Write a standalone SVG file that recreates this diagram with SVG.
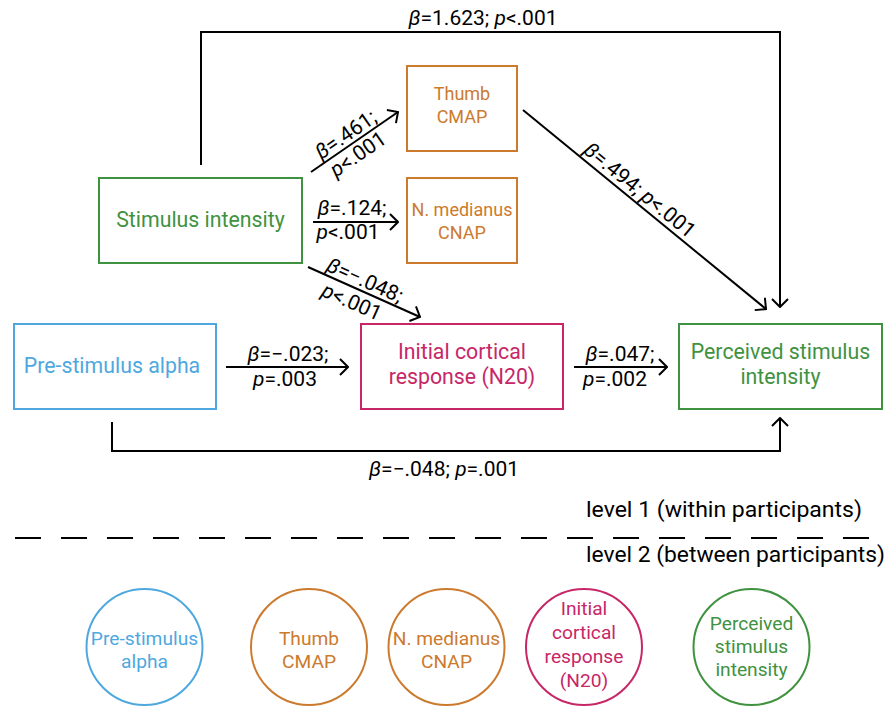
<svg xmlns="http://www.w3.org/2000/svg" width="889" height="706" viewBox="0 0 889 706">
<defs>
<marker id="arr" viewBox="0 0 10 18" refX="9" refY="9" markerWidth="10" markerHeight="18" markerUnits="userSpaceOnUse" orient="auto">
<path d="M1,1 L9,9 L1,17" fill="none" stroke="#000" stroke-width="2"/>
</marker>
</defs>
<style>
text{font-family:Roboto,"Liberation Sans",sans-serif;text-anchor:middle}
.box{fill:#fff;stroke-width:2}
.g{stroke:#3f923f}.gt{fill:#3f923f}
.o{stroke:#cc7a2e}.ot{fill:#cc7a2e}
.b{stroke:#4ea8df}.bt{fill:#4ea8df}
.m{stroke:#c72767}.mt{fill:#c72767}
.big{font-size:21.3px}
.mid{font-size:18px}
.cir{font-size:19.2px}
.lab{font-size:21px;fill:#000}
.lvl{font-size:22.5px;fill:#000;text-anchor:start}
.ln{fill:none;stroke:#000;stroke-width:2}
.it{font-style:italic}
</style>
<g id="connectors">
<path class="ln" d="M201,165 V32 H780 V307" marker-end="url(#arr)"/>
<path class="ln" d="M112,422 V451 H780 V418" marker-end="url(#arr)"/>
<path class="ln" d="M311,172 L398,112" marker-end="url(#arr)"/>
<path class="ln" d="M313,222 L398,222" marker-end="url(#arr)"/>
<path class="ln" d="M308,267 L420,317" marker-end="url(#arr)"/>
<path class="ln" d="M523,110 L766,309" marker-end="url(#arr)"/>
<path class="ln" d="M226,367 L348,367" marker-end="url(#arr)"/>
<path class="ln" d="M574,367 L667,367" marker-end="url(#arr)"/>
<text class="lab" x="483" y="25"><tspan class="it">β</tspan>=1.623; <tspan class="it">p</tspan>&lt;.001</text>
<text class="lab" x="444" y="476"><tspan class="it">β</tspan>=−.048; <tspan class="it">p</tspan>=.001</text>
<g transform="translate(354.5,142) rotate(-34.6)">
<text class="lab" x="-3" y="-4"><tspan class="it">β</tspan>=.461;</text>
<text class="lab" x="-4" y="19"><tspan class="it">p</tspan>&lt;.001</text>
</g>
<text class="lab" x="352" y="215"><tspan class="it">β</tspan>=.124;</text>
<text class="lab" x="348" y="239"><tspan class="it">p</tspan>&lt;.001</text>
<g transform="translate(364,292) rotate(24.06)">
<text class="lab" x="-4" y="-4"><tspan class="it">β</tspan>=−.048;</text>
<text class="lab" x="-7" y="21"><tspan class="it">p</tspan>&lt;.001</text>
</g>
<g transform="translate(644.5,209.5) rotate(39.3)">
<text class="lab" x="-16" y="-5"><tspan class="it">β</tspan>=.494; <tspan class="it">p</tspan>&lt;.001</text>
</g>
<text class="lab" x="288" y="361"><tspan class="it">β</tspan>=−.023;</text>
<text class="lab" x="285" y="386"><tspan class="it">p</tspan>=.003</text>
<text class="lab" x="620" y="361"><tspan class="it">β</tspan>=.047;</text>
<text class="lab" x="615" y="386"><tspan class="it">p</tspan>=.002</text>
</g>
<g id="stimulus">
<rect class="box g" x="99" y="178" width="203" height="85"/>
<text class="big gt" x="200.5" y="227">Stimulus intensity</text>
</g>
<g id="thumb">
<rect class="box o" x="407" y="66" width="110" height="85"/>
<text class="mid ot" x="462" y="100">Thumb</text>
<text class="mid ot" x="462" y="123">CMAP</text>
</g>
<g id="nmedianus">
<rect class="box o" x="407" y="178" width="110" height="85"/>
<text class="mid ot" x="462" y="216">N. medianus</text>
<text class="mid ot" x="462" y="239">CNAP</text>
</g>
<g id="prealpha">
<rect class="box b" x="14" y="324" width="202" height="85"/>
<text class="big bt" x="112" y="373">Pre-stimulus alpha</text>
</g>
<g id="n20">
<rect class="box m" x="361" y="324" width="202" height="85"/>
<text class="big mt" x="462" y="359">Initial cortical</text>
<text class="big mt" x="462" y="384">response (N20)</text>
</g>
<g id="perceived">
<rect class="box g" x="679" y="324" width="203" height="85"/>
<text class="big gt" x="780.5" y="359">Perceived stimulus</text>
<text class="big gt" x="780.5" y="384">intensity</text>
</g>
<g id="levels">
<text class="lvl" x="586" y="517" textLength="276" lengthAdjust="spacingAndGlyphs">level 1 (within participants)</text>
<line x1="15" y1="538" x2="876" y2="538" stroke="#000" stroke-width="2" stroke-dasharray="26 20"/>
<text class="lvl" x="586" y="562" textLength="299" lengthAdjust="spacingAndGlyphs">level 2 (between participants)</text>
</g>
<g id="c-prealpha">
<circle class="box b" cx="144.5" cy="647" r="58"/>
<text class="cir bt" x="144.5" y="645">Pre-stimulus</text>
<text class="cir bt" x="144.5" y="668">alpha</text>
</g>
<g id="c-thumb">
<circle class="box o" cx="309" cy="647" r="58"/>
<text class="cir ot" x="309" y="645">Thumb</text>
<text class="cir ot" x="309" y="668">CMAP</text>
</g>
<g id="c-nmedianus">
<circle class="box o" cx="446.5" cy="647" r="58"/>
<text class="cir ot" x="446.5" y="645">N. medianus</text>
<text class="cir ot" x="446.5" y="668">CNAP</text>
</g>
<g id="c-n20">
<circle class="box m" cx="584" cy="647" r="58"/>
<text class="cir mt" x="584" y="615">Initial</text>
<text class="cir mt" x="584" y="639">cortical</text>
<text class="cir mt" x="584" y="663">response</text>
<text class="cir mt" x="584" y="687">(N20)</text>
</g>
<g id="c-perceived">
<circle class="box g" cx="751.5" cy="647" r="58"/>
<text class="cir gt" x="751.5" y="630">Perceived</text>
<text class="cir gt" x="751.5" y="653">stimulus</text>
<text class="cir gt" x="751.5" y="676">intensity</text>
</g>
</svg>
